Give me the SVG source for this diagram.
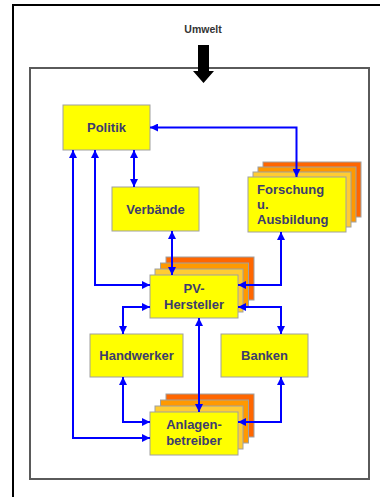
<svg xmlns="http://www.w3.org/2000/svg" width="380" height="497" viewBox="0 0 380 497">
<style>
.box{fill:#FFFF00;stroke:#A0A0A0;stroke-width:1}
.l1{fill:#FFCC33;stroke:#A0A0A0;stroke-width:1}
.l2{fill:#FF9900;stroke:#A0A0A0;stroke-width:1}
.l3{fill:#FF6600;stroke:#A0A0A0;stroke-width:1}
.t{font-family:"Liberation Sans",Arial,sans-serif;font-weight:bold;font-size:13px;fill:#3C3C6E;text-anchor:middle}
.tl{text-anchor:start}
.c{fill:none;stroke:#0000FF;stroke-width:2;marker-start:url(#ah);marker-end:url(#ah)}
</style>
<defs>
<marker id="ah" viewBox="0 0 10 10" refX="10" refY="5" markerWidth="8" markerHeight="8" markerUnits="userSpaceOnUse" orient="auto-start-reverse">
<path d="M0 0 L10 5 L0 10 Z" fill="#0000FF"/>
</marker>
</defs>
<rect width="380" height="497" fill="#FFFFFF"/>
<path d="M13 497 V5 H380" fill="none" stroke="#000" stroke-width="2"/>
<rect x="30" y="68" width="339" height="411" fill="#FFFFFF" stroke="#5A5A5A" stroke-width="2"/>
<g id="umwelt">
<text x="203" y="33" font-family="'Liberation Sans',Arial,sans-serif" font-weight="bold" font-size="10.5" fill="#333" text-anchor="middle">Umwelt</text>
<path d="M198 45 H209 V71 H214 L203.5 83 L193 71 H198 Z" fill="#000"/>
</g>
<g id="politik">
<rect class="box" x="63" y="105" width="87" height="45"/>
<text class="t" x="106.5" y="132">Politik</text>
</g>
<g id="verbaende">
<rect class="box" x="112" y="187" width="87" height="44"/>
<text class="t" x="155.5" y="214">Verbände</text>
</g>
<g id="forschung">
<rect class="l3" x="263" y="162" width="98" height="55"/>
<rect class="l2" x="258" y="167" width="98" height="55"/>
<rect class="l1" x="253" y="172" width="98" height="55"/>
<rect class="box" x="248" y="177" width="98" height="55"/>
<text class="t tl" x="257" y="194">Forschung</text>
<text class="t tl" x="257" y="209">u.</text>
<text class="t tl" x="257" y="224">Ausbildung</text>
</g>
<g id="pvhersteller">
<rect class="l3" x="166" y="257" width="88" height="43"/>
<rect class="l2" x="160.5" y="263" width="88" height="43"/>
<rect class="l1" x="155" y="269" width="88" height="43"/>
<rect class="box" x="150" y="275" width="88" height="43"/>
<text class="t" x="194" y="293">PV-</text>
<text class="t" x="194" y="309">Hersteller</text>
</g>
<g id="handwerker">
<rect class="box" x="90" y="334" width="93" height="43"/>
<text class="t" x="136.5" y="360">Handwerker</text>
</g>
<g id="banken">
<rect class="box" x="221" y="334" width="87" height="43"/>
<text class="t" x="264.5" y="360">Banken</text>
</g>
<g id="anlagenbetreiber">
<rect class="l3" x="166" y="394" width="88" height="43"/>
<rect class="l2" x="160.5" y="400" width="88" height="43"/>
<rect class="l1" x="155" y="406" width="88" height="43"/>
<rect class="box" x="150" y="412" width="88" height="43"/>
<text class="t" x="194" y="429">Anlagen-</text>
<text class="t" x="194" y="445">betreiber</text>
</g>
<g id="connectors">
<path class="c" d="M296.5 177 V127.5 H150"/>
<path class="c" d="M134 150 V187"/>
<path class="c" d="M73 150 V438 H150"/>
<path class="c" d="M95 150 V285 H150"/>
<path class="c" d="M172 231 V275"/>
<path class="c" d="M281 232 V285 H238"/>
<path class="c" d="M150 307 H123 V334"/>
<path class="c" d="M238 307 H281 V334"/>
<path class="c" d="M199 318 V412"/>
<path class="c" d="M123 377 V422 H150"/>
<path class="c" d="M281 377 V422 H238"/>
</g>
</svg>
